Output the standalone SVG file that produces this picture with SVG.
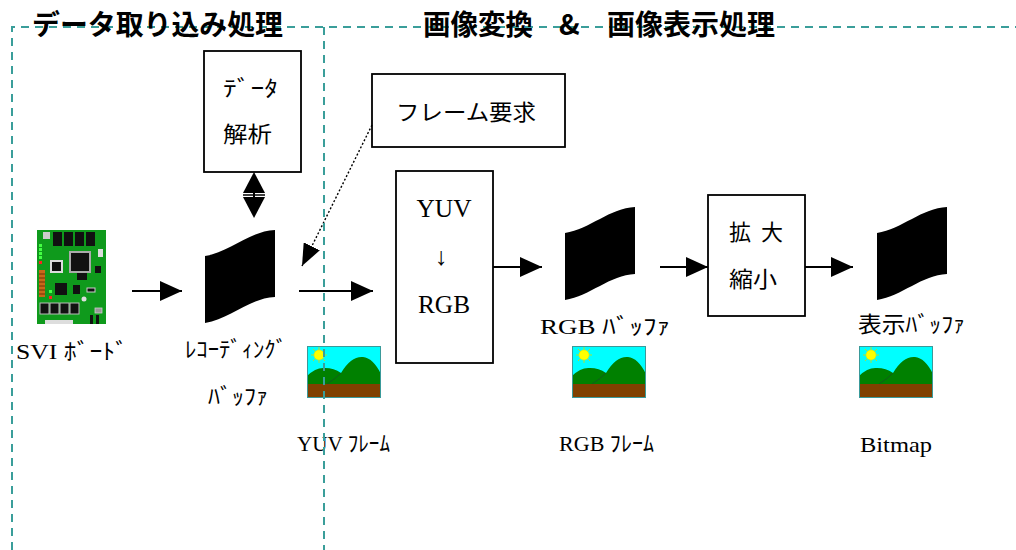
<svg xmlns="http://www.w3.org/2000/svg" xmlns:xlink="http://www.w3.org/1999/xlink" width="1016" height="550" viewBox="0 0 1016 550">
<style>
  .box { fill: #ffffff; stroke: #000000; stroke-width: 1.8; }
  .buf { fill: #000000; }
  .jp { font-family: "Noto Sans CJK JP", "Noto Sans", sans-serif; font-size: 22px; fill: #000; }
  .lab { font-family: "Liberation Serif", "Noto Sans CJK JP", serif; font-size: 22px; fill: #000; }
  .big { font-size: 25px; }
  .title { font-family: "Noto Sans CJK JP", sans-serif; font-size: 28px; font-weight: bold; fill: #000; }
  .conn { fill: none; stroke: #000; stroke-width: 2; }
  .dot { fill: none; stroke: #000; stroke-width: 1.4; stroke-dasharray: 2 2; }
  .frame { fill: none; stroke: #3a9e9a; stroke-width: 2; stroke-dasharray: 8 6; }
</style>
<defs>
  <marker id="ah" markerUnits="userSpaceOnUse" markerWidth="22" markerHeight="20" refX="22" refY="10" orient="auto">
    <path d="M0,0 L22,10 L0,20 Z" fill="#000"/>
  </marker>
  <marker id="ahd" markerUnits="userSpaceOnUse" markerWidth="22" markerHeight="18" refX="22" refY="9" orient="auto">
    <path d="M0,0 L22,9 L0,18 Z" fill="#000"/>
  </marker>
  <path id="bufshape" d="M0,26 C25,22 45,1 70,0 L70,67 C45,68 25,89 0,93 Z"/>
  <symbol id="pic" viewBox="0 0 74 52">
    <rect width="74" height="52" fill="#00ffff"/>
    <path d="M0,30 Q9,21 18,22 Q27,22 34,27 Q44,10 56,11 Q66,12 74,28 L74,38 L0,38 Z" fill="#008000"/>
    <path d="M34,27 Q28,33 20,38" fill="none" stroke="#1a4a2a" stroke-width="0.7"/>
    <rect y="38" width="74" height="14" fill="#804000"/>
    <g stroke="#d8d800" stroke-width="0.8">
      <line x1="12" y1="1" x2="12" y2="17"/>
      <line x1="4" y1="9" x2="20" y2="9"/>
      <line x1="6" y1="3" x2="18" y2="15"/>
      <line x1="18" y1="3" x2="6" y2="15"/>
    </g>
    <circle cx="12" cy="9" r="5" fill="#ffff00" stroke="#e6e600" stroke-width="0.6"/>
    <rect x="0.5" y="0.5" width="73" height="51" fill="none" stroke="#3a9a9a" stroke-width="1"/>
  </symbol>
</defs>

<rect width="1016" height="550" fill="#ffffff"/>

<g id="svi-board">
  <rect x="37" y="230" width="69" height="94" fill="#0f9a1c"/>
  <rect x="43" y="232" width="7" height="7" fill="#cccccc"/>
  <rect x="53" y="232" width="9" height="14" fill="#111"/>
  <rect x="64" y="232" width="9" height="14" fill="#111"/>
  <rect x="75" y="232" width="9" height="14" fill="#111"/>
  <rect x="86" y="232" width="9" height="14" fill="#111"/>
  <rect x="98" y="249" width="5" height="8" fill="#dddddd"/>
  <rect x="69" y="251" width="22" height="22" fill="#aaaaaa"/>
  <rect x="71" y="253" width="18" height="18" fill="#111"/>
  <rect x="50" y="260" width="13" height="13" fill="#dddddd"/>
  <rect x="52" y="262" width="9" height="9" fill="#111"/>
  <rect x="39" y="244" width="3" height="3" fill="#44ff44"/>
  <rect x="39" y="248" width="3" height="3" fill="#44ff44"/>
  <rect x="39" y="252" width="3" height="3" fill="#44ff44"/>
  <rect x="39" y="256" width="3" height="3" fill="#44ff44"/>
  <rect x="39" y="261" width="3" height="3" fill="#ff2222"/>
  <rect x="39" y="270" width="6" height="27" fill="#c8681a"/>
  <g stroke="#5a2a00" stroke-width="0.8">
    <line x1="39" y1="274" x2="45" y2="274"/>
    <line x1="39" y1="278" x2="45" y2="278"/>
    <line x1="39" y1="282" x2="45" y2="282"/>
    <line x1="39" y1="286" x2="45" y2="286"/>
    <line x1="39" y1="290" x2="45" y2="290"/>
    <line x1="39" y1="294" x2="45" y2="294"/>
  </g>
  <rect x="95" y="266" width="6" height="7" fill="#111"/>
  <rect x="77" y="273" width="10" height="7" fill="#111"/>
  <rect x="55" y="283" width="12" height="12" fill="#111"/>
  <rect x="73" y="285" width="7" height="9" fill="#111"/>
  <rect x="87" y="288" width="8" height="4" fill="#111" stroke="#cccccc" stroke-width="1"/>
  <rect x="49" y="290" width="3" height="3" fill="#44ff44"/>
  <rect x="49" y="296" width="3" height="3" fill="#ff2222"/>
  <circle cx="84" cy="299" r="2.5" fill="#dddddd"/>
  <rect x="40" y="303" width="9" height="11" fill="#111" stroke="#bbbbbb" stroke-width="1"/>
  <rect x="50" y="303" width="9" height="11" fill="#111" stroke="#bbbbbb" stroke-width="1"/>
  <rect x="60" y="303" width="9" height="11" fill="#111" stroke="#bbbbbb" stroke-width="1"/>
  <rect x="70" y="303" width="9" height="11" fill="#111" stroke="#bbbbbb" stroke-width="1"/>
  <rect x="95" y="308" width="7" height="5" fill="#999999" stroke="#cccccc" stroke-width="0.8"/>
  <rect x="45" y="320" width="28" height="4" fill="#dddddd"/>
  <rect x="90" y="315" width="3" height="9" fill="#111"/>
  <rect x="96" y="315" width="3" height="9" fill="#111"/>
  <text class="lab" x="16" y="359" textLength="112" lengthAdjust="spacingAndGlyphs">SVI ﾎﾞｰﾄﾞ</text>
</g>

<g id="data-analysis">
  <rect class="box" x="204" y="51" width="97" height="121"/>
  <text class="jp" x="223" y="96" textLength="55" lengthAdjust="spacingAndGlyphs">ﾃﾞｰﾀ</text>
  <text class="jp" x="223" y="142" textLength="49" lengthAdjust="spacingAndGlyphs">解析</text>
</g>

<g id="recording-buffer">
  <use href="#bufshape" xlink:href="#bufshape" class="buf" x="205" y="230"/>
  <text class="jp" x="185" y="357" textLength="102" lengthAdjust="spacingAndGlyphs">ﾚｺｰﾃﾞｨﾝｸﾞ</text>
  <text class="jp" x="208" y="404" textLength="60" lengthAdjust="spacingAndGlyphs">ﾊﾞｯﾌｧ</text>
</g>

<g id="frame-request">
  <rect class="box" x="372" y="74" width="193" height="73"/>
  <text class="jp" x="396" y="120" textLength="140" lengthAdjust="spacingAndGlyphs">フレーム要求</text>
</g>

<g id="yuv-frame">
  <use href="#pic" xlink:href="#pic" x="307" y="346" width="74" height="52"/>
  <text class="lab" x="297" y="451" textLength="93" lengthAdjust="spacingAndGlyphs">YUV ﾌﾚｰﾑ</text>
</g>

<g id="yuv-rgb">
  <rect class="box" x="396" y="171" width="97" height="192"/>
  <text class="lab big" x="444" y="217" text-anchor="middle" textLength="55" lengthAdjust="spacingAndGlyphs">YUV</text>
  <text class="lab big" x="441" y="265" text-anchor="middle">↓</text>
  <text class="lab big" x="444" y="313" text-anchor="middle" textLength="52" lengthAdjust="spacingAndGlyphs">RGB</text>
</g>

<g id="rgb-buffer">
  <use href="#bufshape" xlink:href="#bufshape" class="buf" x="565" y="207"/>
  <text class="lab" x="540" y="334" textLength="130" lengthAdjust="spacingAndGlyphs">RGB ﾊﾞｯﾌｧ</text>
</g>

<g id="rgb-frame">
  <use href="#pic" xlink:href="#pic" x="572" y="346" width="74" height="52"/>
  <text class="lab" x="559" y="451" textLength="95" lengthAdjust="spacingAndGlyphs">RGB ﾌﾚｰﾑ</text>
</g>

<g id="scaling">
  <rect class="box" x="708" y="195" width="97" height="121"/>
  <text class="jp" x="729" y="240">拡</text>
  <text class="jp" x="761" y="240">大</text>
  <text class="jp" x="729" y="287" textLength="48" lengthAdjust="spacingAndGlyphs">縮小</text>
</g>

<g id="display-buffer">
  <use href="#bufshape" xlink:href="#bufshape" class="buf" x="877" y="207"/>
  <text class="jp" x="858" y="332" textLength="107" lengthAdjust="spacingAndGlyphs">表示ﾊﾞｯﾌｧ</text>
</g>

<g id="bitmap">
  <use href="#pic" xlink:href="#pic" x="859" y="346" width="74" height="52"/>
  <text class="lab" x="860" y="452" textLength="72" lengthAdjust="spacingAndGlyphs">Bitmap</text>
</g>

<g id="connectors">
  <line class="conn" x1="132" y1="291" x2="182" y2="291" marker-end="url(#ah)"/>
  <line class="conn" x1="299" y1="291" x2="373" y2="291" marker-end="url(#ah)"/>
  <line class="conn" x1="493" y1="267" x2="542" y2="267" marker-end="url(#ah)"/>
  <line class="conn" x1="660" y1="267" x2="708" y2="267" marker-end="url(#ah)"/>
  <line class="conn" x1="805" y1="267" x2="853" y2="267" marker-end="url(#ah)"/>
  <line class="dot" x1="372" y1="125" x2="302" y2="266" marker-end="url(#ahd)"/>
  <g id="analysis-link">
    <path d="M254,172 L243,193 L265,193 Z" fill="#000"/>
    <line x1="254" y1="192" x2="254" y2="198" stroke="#000" stroke-width="2"/>
    <line x1="243" y1="195" x2="265" y2="195" stroke="#000" stroke-width="1.5"/>
    <path d="M243,197 L265,197 L254,218 Z" fill="#000"/>
  </g>
</g>

<g id="frames">
  <path class="frame" d="M12,550 V27 H1016"/>
  <path class="frame" d="M324,27 V550"/>
</g>

<g id="titles">
  <text class="title" x="32" y="35" textLength="251" lengthAdjust="spacingAndGlyphs">データ取り込み処理</text>
  <text class="title" y="35"><tspan x="423" textLength="110" lengthAdjust="spacingAndGlyphs">画像変換</tspan><tspan x="559">&amp;</tspan><tspan x="607" textLength="168" lengthAdjust="spacingAndGlyphs">画像表示処理</tspan></text>
</g>
</svg>
